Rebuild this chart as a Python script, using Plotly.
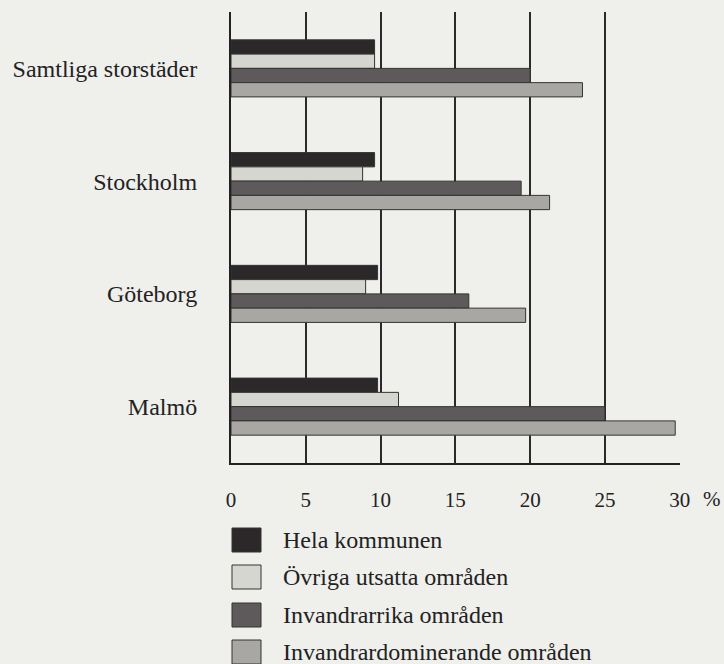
import plotly.graph_objects as go

# Städer (kategorier) och andel per områdestyp, i procent
cities = ["Samtliga storstäder", "Stockholm", "Göteborg", "Malmö"]
series_names = [
    "Hela kommunen",
    "Övriga utsatta områden",
    "Invandrarrika områden",
    "Invandrardominerande områden",
]
hela_kommunen = [9.6, 9.6, 9.8, 9.8]
ovriga_utsatta = [9.6, 8.8, 9.0, 11.2]
invandrarrika = [20.0, 19.4, 15.9, 25.0]
invandrardominerande = [23.5, 21.3, 19.7, 29.7]
tick_values = [0, 5, 10, 15, 20, 25, 30]

series_values = [hela_kommunen, ovriga_utsatta, invandrarrika, invandrardominerande]
colors = ["#2c282a", "#d6d6d0", "#5e5a5b", "#a9a7a4"]

BG = "#efefeb"
INK = "#222222"
FONT = "Liberation Serif, Times New Roman, serif"

# plot area in pixels (figure is 724 x 664)
LEFT, RIGHT, TOP, BOTTOM = 231, 680, 12, 463


def px_x(p):
    return (p - LEFT) / (RIGHT - LEFT)


def px_y(p):
    return (BOTTOM - p) / (BOTTOM - TOP)


fig = go.Figure()

for name, vals, col in zip(series_names, series_values, colors):
    fig.add_trace(
        go.Bar(
            y=cities,
            x=vals,
            name=name,
            orientation="h",
            marker=dict(color=col, line=dict(color="#333333", width=1)),
            showlegend=False,
            hovertemplate="%{y}: %{x:.1f} %<extra>" + name + "</extra>",
        )
    )

# legend drawn by hand so the boxes can be as large as in the original
row_centers = [540, 577, 615, 652]
for name, col, yc in zip(series_names, colors, row_centers):
    fig.add_shape(
        type="rect",
        xref="paper",
        yref="paper",
        x0=px_x(232),
        x1=px_x(261),
        y0=px_y(yc - 12),
        y1=px_y(yc + 12),
        fillcolor=col,
        line=dict(color="#333333", width=1),
    )
    fig.add_annotation(
        text=name,
        xref="paper",
        yref="paper",
        x=px_x(281),
        y=px_y(yc),
        xanchor="left",
        yanchor="middle",
        showarrow=False,
        font=dict(family=FONT, size=24, color=INK),
    )

# percent sign after the last tick label
fig.add_annotation(
    text="%",
    xref="x",
    yref="paper",
    x=tick_values[-1],
    y=px_y(499),
    xanchor="left",
    yanchor="middle",
    xshift=21,
    showarrow=False,
    font=dict(family=FONT, size=21, color=INK),
)

fig.update_layout(
    width=724,
    height=664,
    paper_bgcolor=BG,
    plot_bgcolor=BG,
    barmode="group",
    bargap=0.494,
    bargroupgap=0,
    margin=dict(l=LEFT, r=724 - RIGHT, t=TOP, b=664 - BOTTOM, pad=0),
    font=dict(family=FONT, color=INK),
    showlegend=False,
)

fig.update_xaxes(
    range=[0, 30.02],
    tickvals=tick_values,
    ticktext=[str(v) for v in tick_values],
    showgrid=True,
    gridcolor="#2a2a2a",
    gridwidth=1.5,
    zeroline=False,
    showline=True,
    linecolor=INK,
    linewidth=2,
    ticks="outside",
    ticklen=17,
    tickcolor="rgba(0,0,0,0)",
    tickfont=dict(family=FONT, size=21, color=INK),
    fixedrange=True,
)

fig.update_yaxes(
    type="category",
    categoryorder="array",
    categoryarray=cities,
    range=[3.5, -0.5],
    showgrid=False,
    zeroline=False,
    showline=True,
    linecolor=INK,
    linewidth=2,
    ticks="outside",
    ticklen=27,
    tickcolor="rgba(0,0,0,0)",
    tickfont=dict(family=FONT, size=24, color=INK),
    fixedrange=True,
)

# the page's default body margin would push the figure 8px off the window
fig.write_html(
    "out.html",
    config={"displayModeBar": False},
    post_script="document.body.style.margin='0';document.body.style.overflow='hidden';",
)
